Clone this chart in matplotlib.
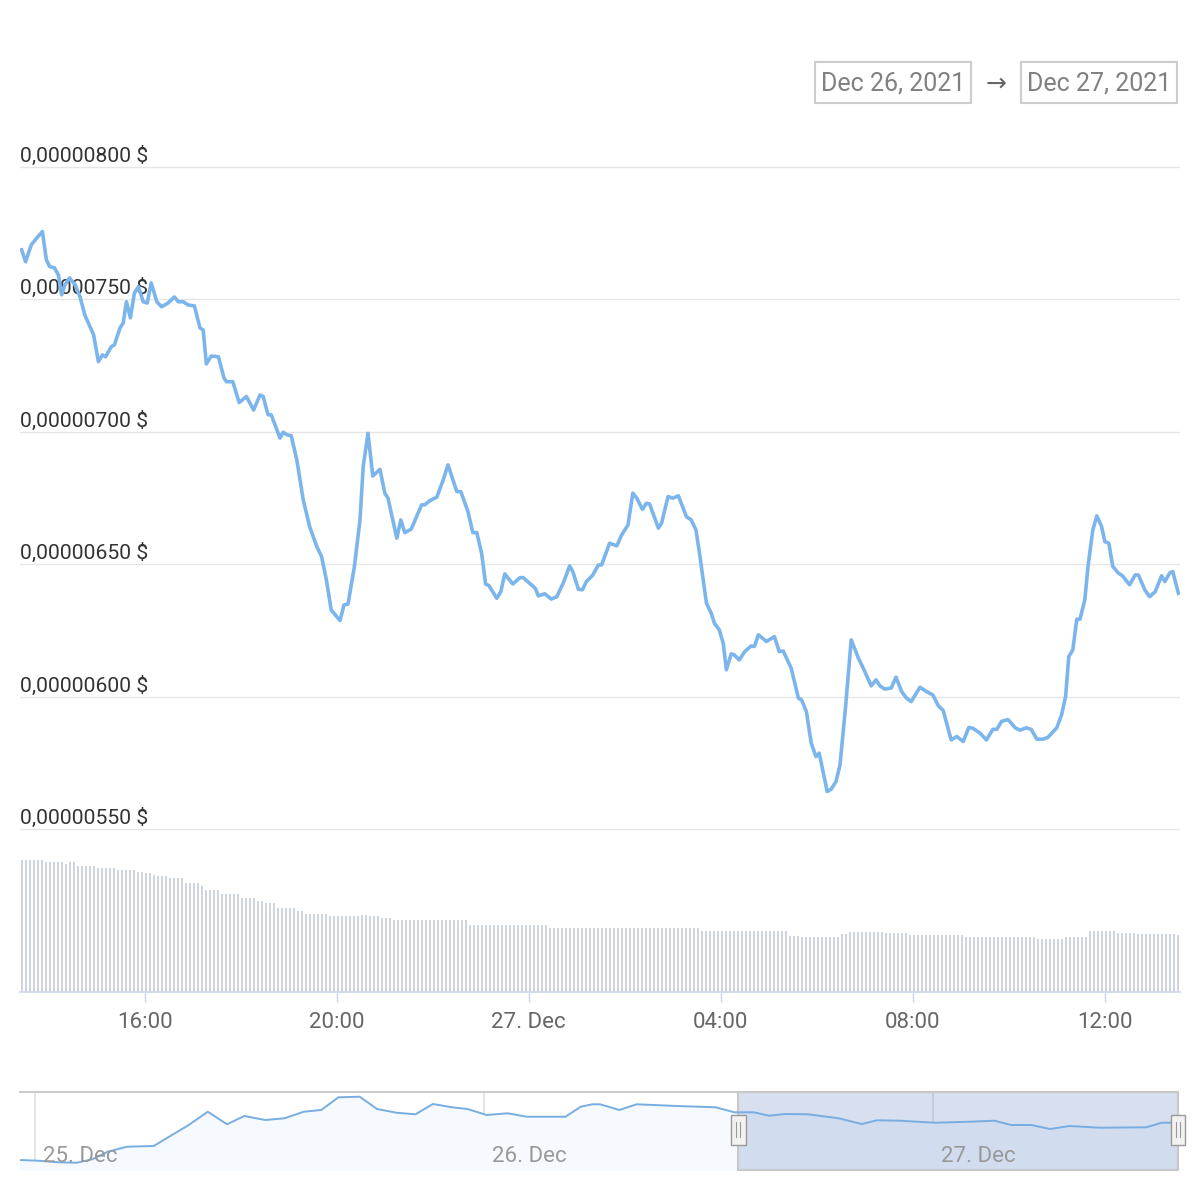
import numpy as np
import pandas as pd
import matplotlib
matplotlib.use("Agg")
import matplotlib.pyplot as plt
import matplotlib.dates as mdates
from matplotlib.patches import Rectangle
from matplotlib.ticker import FuncFormatter

plt.rcParams['font.family'] = ['Roboto', 'DejaVu Sans']

# prix (en 1e-8 $), 26 dec 13:26 -> 27 dec 13:32
price_times = ["13:26", "13:31", "13:38", "13:45", "13:52", "13:57", "14:01", "14:07", "14:12", "14:16",
               "14:20", "14:26", "14:33", "14:39", "14:45", "14:56", "15:02", "15:07", "15:11", "15:18",
               "15:22", "15:29", "15:33", "15:37", "15:42", "15:47", "15:52", "15:58", "16:03", "16:08",
               "16:15", "16:21", "16:29", "16:37", "16:42", "16:48", "16:54", "17:02", "17:09", "17:13",
               "17:17", "17:23", "17:32", "17:39", "17:42", "17:50", "17:58", "18:07", "18:16", "18:24",
               "18:28", "18:34", "18:38", "18:49", "18:53", "18:58", "19:03", "19:10", "19:18", "19:26",
               "19:35", "19:41", "19:47", "19:53", "20:04", "20:09", "20:14", "20:22", "20:29", "20:33",
               "20:39", "20:45", "20:54", "21:00", "21:04", "21:15", "21:20", "21:25", "21:33", "21:46",
               "21:50", "21:56", "22:05", "22:13", "22:19", "22:30", "22:35", "22:44", "22:50", "22:55",
               "23:01", "23:06", "23:10", "23:20", "23:25", "23:30", "23:40", "23:49", "23:53", "00:08",
               "00:12", "00:20", "00:28", "00:35", "00:43", "00:51", "00:55", "01:02", "01:07", "01:12",
               "01:20", "01:27", "01:31", "01:41", "01:50", "01:56", "02:04", "02:10", "02:15", "02:22",
               "02:27", "02:31", "02:42", "02:46", "02:54", "03:00", "03:07", "03:17", "03:23", "03:29",
               "03:34", "03:42", "03:48", "03:52", "03:58", "04:03", "04:07", "04:13", "04:17", "04:23",
               "04:30", "04:38", "04:42", "04:47", "04:57", "05:07", "05:13", "05:18", "05:28", "05:37",
               "05:41", "05:47", "05:53", "05:59", "06:03", "06:13", "06:18", "06:24", "06:29", "06:36",
               "06:43", "06:52", "06:59", "07:08", "07:14", "07:19", "07:25", "07:33", "07:39", "07:46",
               "07:52", "07:58", "08:09", "08:17", "08:25", "08:32", "08:38", "08:48", "08:55", "09:03",
               "09:10", "09:15", "09:24", "09:32", "09:40", "09:45", "09:51", "09:59", "10:08", "10:14",
               "10:22", "10:28", "10:35", "10:43", "10:49", "11:00", "11:06", "11:11", "11:15", "11:20",
               "11:25", "11:29", "11:35", "11:39", "11:45", "11:50", "11:56", "12:00", "12:05", "12:10",
               "12:17", "12:22", "12:31", "12:38", "12:42", "12:50", "12:56", "13:03", "13:11", "13:15",
               "13:21", "13:25", "13:32"]
price_e8 = [768.7, 764.2, 770.5, 773.2, 775.6, 764.9, 762.4, 761.9, 759.2, 751.7,
            755.4, 758.1, 755.4, 751.0, 744.1, 736.6, 726.5, 729.0, 728.3, 732.1,
            732.8, 739.2, 741.1, 749.1, 743.0, 752.4, 754.8, 749.1, 748.6, 756.2,
            749.1, 747.2, 748.6, 750.9, 749.1, 749.1, 747.9, 747.5, 739.2, 738.4,
            725.6, 728.6, 728.3, 720.3, 718.9, 718.9, 711.0, 713.3, 708.2, 713.9,
            713.3, 706.4, 706.4, 697.6, 699.8, 698.8, 698.5, 689.4, 674.3, 664.2,
            656.6, 652.8, 644.0, 632.7, 628.7, 634.6, 634.9, 649.1, 666.7, 686.8,
            699.4, 683.3, 685.8, 676.8, 674.9, 659.8, 666.7, 661.9, 663.2, 672.4,
            672.4, 673.9, 675.3, 681.8, 687.5, 677.4, 677.4, 669.8, 661.9, 661.9,
            654.1, 642.5, 641.9, 637.1, 639.6, 646.3, 642.5, 644.9, 644.9, 640.9,
            638.0, 638.8, 636.8, 637.7, 642.8, 649.3, 647.2, 640.5, 640.3, 643.4,
            645.9, 649.7, 649.7, 657.9, 656.9, 661.0, 664.8, 676.8, 674.9, 670.7,
            673.0, 672.7, 663.6, 665.5, 675.5, 674.9, 675.8, 667.9, 666.7, 662.9,
            652.8, 635.3, 631.5, 627.7, 625.2, 620.2, 610.1, 616.1, 615.7, 613.8,
            617.0, 619.1, 618.9, 623.3, 620.8, 622.6, 617.0, 617.2, 610.7, 599.4,
            598.7, 594.3, 582.4, 577.3, 578.6, 564.1, 565.0, 567.9, 574.2, 596.2,
            621.4, 614.5, 610.1, 604.0, 606.3, 604.0, 602.8, 603.2, 607.3, 601.9,
            599.4, 598.1, 603.5, 601.9, 600.6, 596.5, 594.7, 583.6, 584.9, 583.0,
            588.3, 588.0, 586.2, 583.6, 587.6, 587.6, 590.6, 591.3, 588.2, 587.3,
            588.2, 587.6, 583.9, 583.9, 584.6, 588.2, 593.1, 600.0, 615.1, 617.6,
            629.2, 629.2, 636.5, 649.1, 662.9, 668.2, 664.2, 658.5, 657.9, 649.1,
            646.6, 645.6, 642.2, 645.9, 645.9, 640.3, 637.7, 639.6, 645.6, 643.4,
            646.6, 647.2, 639.0]

# volume (unites arbitraires), par paliers de barres de 5 min
vol_levels = [132, 130, 128, 130, 126, 124, 122, 120, 119, 117, 116, 114, 109, 106, 102, 98, 94, 91, 89, 84,
              81, 78, 76, 77, 76, 74, 72, 72, 67, 64, 61, 56, 55, 58, 60, 59, 57, 55, 53, 55, 61, 59, 58, 57]
vol_counts = [6, 5, 1, 2, 5, 5, 5, 2, 2, 1, 3, 4, 4, 1, 4, 5, 4, 2, 3, 5,
              2, 6, 8, 2, 3, 3, 2, 17, 20, 38, 22, 3, 10, 2, 9, 6, 14, 18, 7, 6, 7, 5, 10, 1]

# navigateur (prix en 1e-8 $)
nav_times = ["2021-12-24 23:10", "2021-12-25 00:11", "2021-12-25 01:13", "2021-12-25 02:14", "2021-12-25 03:04",
             "2021-12-25 03:53", "2021-12-25 04:55", "2021-12-25 06:21", "2021-12-25 07:10", "2021-12-25 08:13",
             "2021-12-25 09:14", "2021-12-25 10:16", "2021-12-25 11:11", "2021-12-25 12:19", "2021-12-25 13:20",
             "2021-12-25 14:22", "2021-12-25 15:18", "2021-12-25 16:13", "2021-12-25 17:21", "2021-12-25 18:17",
             "2021-12-25 19:19", "2021-12-25 20:20", "2021-12-25 21:16", "2021-12-25 22:17", "2021-12-25 23:07",
             "2021-12-26 00:08", "2021-12-26 01:16", "2021-12-26 02:17", "2021-12-26 04:21", "2021-12-26 05:10",
             "2021-12-26 05:47", "2021-12-26 06:12", "2021-12-26 07:14", "2021-12-26 08:09", "2021-12-26 10:19",
             "2021-12-26 12:22", "2021-12-26 13:23", "2021-12-26 14:25", "2021-12-26 15:14", "2021-12-26 16:04",
             "2021-12-26 17:18", "2021-12-26 18:57", "2021-12-26 20:11", "2021-12-26 21:00", "2021-12-26 22:14",
             "2021-12-27 00:05", "2021-12-27 01:56", "2021-12-27 03:16", "2021-12-27 04:11", "2021-12-27 05:14",
             "2021-12-27 06:15", "2021-12-27 07:17", "2021-12-27 08:55", "2021-12-27 11:23", "2021-12-27 12:13",
             "2021-12-27 13:02"]
nav_e8 = [432, 427, 416, 413, 437, 490, 525, 530, 595, 677,
          770, 682, 740, 712, 724, 770, 782, 871, 875, 789,
          763, 752, 824, 801, 789, 747, 759, 735, 735, 805,
          822, 822, 782, 822, 810, 801, 766, 766, 742, 754,
          752, 724, 684, 710, 707, 693, 700, 707, 677, 677,
          649, 670, 658, 661, 693, 693]

y_ticks = [550, 600, 650, 700, 750, 800]
date_inputs = ["Dec 26, 2021", "Dec 27, 2021"]

# heures -> datetimes (passage a minuit)
day = pd.Timestamp("2021-12-26")
prev = -1
t = []
for s in price_times:
    h, m = map(int, s.split(":"))
    if h < prev:
        day += pd.Timedelta(days=1)
    prev = h
    t.append(day + pd.Timedelta(hours=h, minutes=m))
price_t = pd.DatetimeIndex(t)
price = np.array(price_e8) * 1e-8

volume = np.repeat(vol_levels, vol_counts)
vol_t = pd.date_range("2021-12-26 13:26", periods=len(volume), freq="5min")

nav_t = pd.to_datetime(nav_times)
nav = np.array(nav_e8) * 1e-8

x_start = pd.Timestamp("2021-12-26 13:24")
x_end = pd.Timestamp("2021-12-27 13:34")
nav_start = pd.Timestamp("2021-12-24 23:12")
nav_end = pd.Timestamp("2021-12-27 13:05")
sel_start = pd.Timestamp("2021-12-26 13:35")

W = H = 1200


def rect(x0, y0, x1, y1):
    return [x0 / W, 1 - y1 / H, (x1 - x0) / W, (y1 - y0) / H]


fig = plt.figure(figsize=(12, 12), dpi=100)

# --- prix
ax = fig.add_axes(rect(20, 150, 1180, 835))
ax.plot(price_t, price, color="#7cb5ec", lw=2.6, zorder=3, solid_joinstyle="round")
ax.set_xlim(x_start, x_end)
ax.set_ylim(547.7e-8, 806.4e-8)
ax.set_yticks([v * 1e-8 for v in y_ticks])
ax.grid(axis="y", color="#e6e6e6", lw=1)
ax.tick_params(left=False, labelleft=False, bottom=False, labelbottom=False)
ax.set_xticks([])
for s in ax.spines.values():
    s.set_visible(False)
for v in y_ticks:
    ax.annotate(f"{v * 1e-8:.8f}".replace(".", ",") + " $", xy=(0, v * 1e-8),
                xycoords=("axes fraction", "data"), xytext=(0, 5), textcoords="offset pixels",
                ha="left", va="baseline", fontsize=15.2, color="#333333", zorder=1)

# --- volume
axv = fig.add_axes(rect(20, 845, 1180, 992))
axv.bar(vol_t, volume, width=2.4 / 1440, color="#cfd5de", align="center")
axv.set_xlim(x_start, x_end)
axv.set_ylim(0, 147)
axv.set_yticks([])
for k in ["top", "left", "right"]:
    axv.spines[k].set_visible(False)
axv.spines["bottom"].set_color("#ccd6eb")
axv.spines["bottom"].set_linewidth(1.2)
axv.xaxis.set_major_locator(mdates.HourLocator(byhour=range(0, 24, 4)))


def fmt_time(x, pos):
    d = mdates.num2date(x)
    if d.hour == 0:
        return d.strftime("%d. %b")
    return d.strftime("%H:%M")


axv.xaxis.set_major_formatter(FuncFormatter(fmt_time))
axv.tick_params(axis="x", length=7.2, width=1, color="#ccd6eb", labelcolor="#666666", labelsize=16, pad=7.5)

# --- navigateur
axn = fig.add_axes(rect(20, 1092, 1178, 1170))
axn.set_xlim(nav_start, nav_end)
axn.set_ylim(362e-8, 908e-8)
axn.fill_between(nav_t, nav, 0, color="#f6fafe", zorder=1)
axn.plot(nav_t, nav, color="#78ade2", lw=1.4, zorder=4)
for d in ["2021-12-25", "2021-12-26", "2021-12-27"]:
    dd = pd.Timestamp(d)
    axn.axvline(dd, color="#e0e0e0", lw=1.2, zorder=0.5)
    axn.annotate(dd.strftime("%d. %b"), xy=(dd, 0), xycoords=("data", "axes fraction"),
                 xytext=(8, 8), textcoords="offset pixels", ha="left", va="baseline",
                 fontsize=16, color="#999999", zorder=6)
axn.set_xticks([])
axn.set_yticks([])
for k in ["bottom", "left", "right"]:
    axn.spines[k].set_visible(False)
axn.spines["top"].set_color("#cccccc")
axn.spines["top"].set_linewidth(1.5)

xs = mdates.date2num(sel_start)
xe = mdates.date2num(nav_end)
axn.add_patch(Rectangle((xs, 0), xe - xs, 1, transform=axn.get_xaxis_transform(),
                        facecolor=(102 / 255, 133 / 255, 194 / 255, 0.25), edgecolor="#c8c8c8",
                        lw=1.5, zorder=3, clip_on=False))
hw = 0.8 / 24
for hx in [xs, xe]:
    axn.add_patch(Rectangle((hx - hw / 2, 0.32), hw, 0.385, transform=axn.get_xaxis_transform(),
                            facecolor="#f2f2f2", edgecolor="#999999", lw=1, zorder=7, clip_on=False))
    for off in [-0.1 / 24, 0.1 / 24]:
        axn.plot([hx + off, hx + off], [0.42, 0.61], transform=axn.get_xaxis_transform(),
                 color="#999999", lw=0.8, zorder=8, clip_on=False)

# --- champs de dates
for (x0, x1), label in zip([(815, 971), (1021, 1177)], date_inputs):
    fig.patches.append(Rectangle((x0 / W, 1 - 103 / H), (x1 - x0) / W, 41 / H, transform=fig.transFigure,
                                 fill=False, edgecolor="#cccccc", lw=1.5))
    fig.text((x0 + x1) / 2 / W, 1 - 83 / H, label, ha="center", va="center", fontsize=18, color="#808080")
fig.text(996 / W, 1 - 84 / H, "\u2192", ha="center", va="center", fontsize=18, color="#666666")

fig.savefig("out.png", dpi=100)
